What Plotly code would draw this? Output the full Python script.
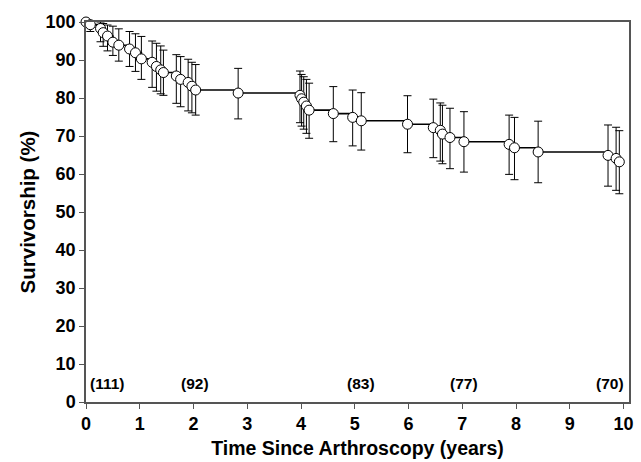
import plotly.graph_objects as go

# Survival time points (years) and survivorship (%)
time_years = [0.00, 0.08, 0.27, 0.32, 0.40, 0.50, 0.61, 0.81, 0.92, 1.03,
              1.23, 1.31, 1.39, 1.44, 1.68, 1.76, 1.90, 1.97, 2.04, 2.83,
              3.98, 4.01, 4.05, 4.10, 4.15, 4.60, 4.96, 5.12, 5.98, 6.46,
              6.59, 6.63, 6.77, 7.03, 7.87, 7.97, 8.41, 9.71, 9.86, 9.92]
survival = [100.0, 99.3, 98.3, 97.2, 96.3, 94.7, 93.9, 92.9, 91.9, 90.3,
            89.4, 88.3, 87.4, 86.7, 85.8, 84.9, 84.1, 83.1, 82.1, 81.3,
            80.7, 79.8, 78.9, 77.9, 76.8, 75.9, 74.9, 74.0, 73.1, 72.2,
            71.5, 70.5, 69.6, 68.5, 67.8, 66.9, 65.8, 64.9, 64.1, 63.2]
ci_upper = [100.0, 100.0, 100.0, 99.6, 99.2, 98.9, 98.2, 97.5, 96.9, 96.2,
            95.0, 94.4, 93.7, 92.6, 91.4, 90.9, 90.2, 89.4, 88.8, 87.8,
            87.1, 86.2, 85.6, 84.9, 83.9, 83.0, 82.1, 81.4, 80.6, 79.7,
            78.7, 78.1, 77.3, 76.4, 75.5, 74.9, 73.9, 72.9, 72.3, 71.4]
ci_lower = [100.0, 97.5, 94.8, 93.6, 92.4, 91.2, 89.7, 88.3, 87.0, 84.9,
            82.8, 81.8, 81.1, 80.7, 78.6, 77.7, 76.6, 76.1, 75.5, 74.5,
            73.5, 72.6, 71.8, 70.7, 69.4, 68.5, 67.4, 66.3, 65.6, 64.3,
            63.4, 62.7, 61.4, 60.5, 59.9, 58.5, 57.7, 56.8, 55.7, 54.8]

# Numbers at risk
risk_x = [0.39, 2.03, 5.11, 7.03, 9.74]
risk_labels = ["(111)", "(92)", "(83)", "(77)", "(70)"]
risk_y = 5

x_ticks = list(range(0, 11))
y_ticks = list(range(0, 101, 10))

err_plus = [u - s for u, s in zip(ci_upper, survival)]
err_minus = [s - l for s, l in zip(survival, ci_lower)]

FONT = "Liberation Sans, Arial, sans-serif"

fig = go.Figure()
fig.add_trace(go.Scatter(
    x=time_years, y=survival,
    mode="lines+markers",
    line=dict(color="black", width=1.6, shape="hv"),
    marker=dict(size=10, color="white", line=dict(color="black", width=1)),
    error_y=dict(type="data", symmetric=False, array=err_plus, arrayminus=err_minus,
                 color="black", thickness=1, width=4),
    cliponaxis=False,
    showlegend=False,
))

for xv, lab in zip(risk_x, risk_labels):
    fig.add_annotation(x=xv, y=risk_y, text="<b>" + lab + "</b>", showarrow=False,
                       font=dict(family=FONT, size=15.5, color="black"),
                       xanchor="center", yanchor="middle")

axis_common = dict(showgrid=False, zeroline=False, showline=True, linecolor="#555555",
                   linewidth=1.5, mirror=True, ticks="outside", ticklen=5, tickwidth=1,
                   tickcolor="#555555", automargin=False,
                   tickfont=dict(family=FONT, size=18, color="black"))

fig.update_xaxes(range=[0, 10.1], tickvals=x_ticks, ticktext=["<b>%d</b>" % v for v in x_ticks],
                 title=dict(text="<b>Time Since Arthroscopy (years)</b>",
                            font=dict(family=FONT, size=19.5, color="black"), standoff=8),
                 **axis_common)
fig.update_yaxes(range=[0, 100], tickvals=y_ticks, ticktext=["<b>%d</b>" % v for v in y_ticks],
                 title=dict(text="<b>Survivorship (%)</b>",
                            font=dict(family=FONT, size=20.5, color="black"), standoff=4),
                 **axis_common)

fig.update_layout(
    width=641, height=462,
    margin=dict(l=86, r=12, t=22, b=60, pad=0),
    paper_bgcolor="white", plot_bgcolor="white",
)

fig.write_html("out.html")
